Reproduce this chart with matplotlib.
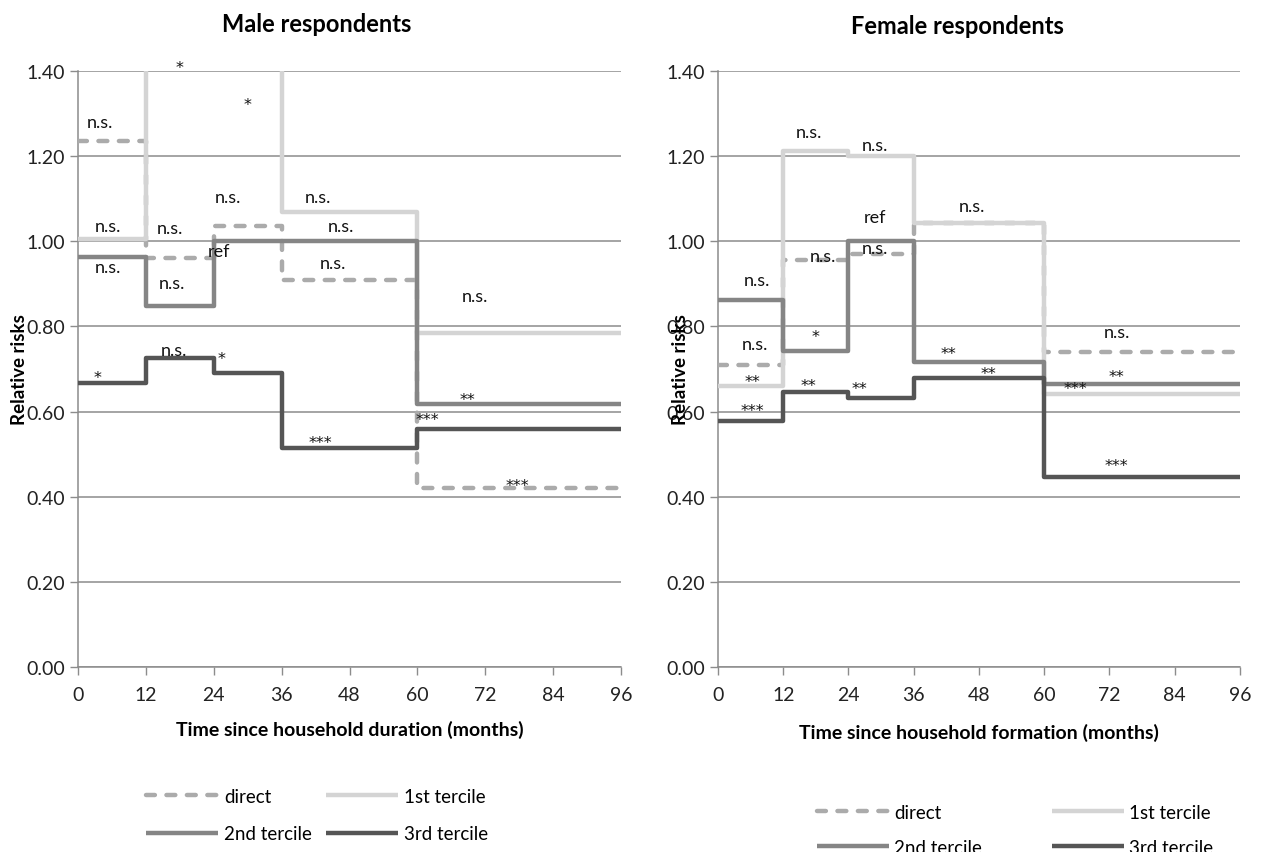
import numpy as np
import matplotlib.pyplot as plt
from matplotlib.transforms import offset_copy

plt.rcParams['font.family'] = ['Lato', 'DejaVu Sans']

# interval edges (months)
edges = [0, 12, 24, 36, 60, 96]

# male respondents (relative risks per interval)
m_direct = [1.236, 0.961, 1.036, 0.909, 0.42]
m_t1 = [1.005, 1.50, 1.50, 1.069, 0.785]
m_t2 = [0.963, 0.848, 1.00, 1.00, 0.618]
m_t3 = [0.667, 0.726, 0.691, 0.514, 0.559]

# female respondents
f_direct = [0.709, 0.956, 0.970, 1.043, 0.740]
f_t1 = [0.660, 1.212, 1.200, 1.043, 0.641]
f_t2 = [0.862, 0.742, 1.00, 0.716, 0.665]
f_t3 = [0.578, 0.646, 0.632, 0.680, 0.446]

# significance labels: (month, value, text)
m_notes = [(18.0, 1.412, '*'), (29.9, 1.327, '*'), (3.9, 1.28, 'n.s.'),
           (5.3, 1.036, 'n.s.'), (5.3, 0.94, 'n.s.'), (16.3, 1.031, 'n.s.'),
           (16.6, 0.902, 'n.s.'), (24.9, 0.977, 'ref'), (26.5, 1.104, 'n.s.'),
           (42.4, 1.104, 'n.s.'), (46.5, 1.036, 'n.s.'), (45.1, 0.949, 'n.s.'),
           (70.2, 0.871, 'n.s.'), (3.5, 0.684, '*'), (17.0, 0.745, 'n.s.'),
           (25.3, 0.73, '*'), (42.8, 0.531, '***'), (68.8, 0.634, '**'),
           (61.7, 0.585, '***'), (77.6, 0.43, '***')]
f_notes = [(16.7, 1.257, 'n.s.'), (28.9, 1.226, 'n.s.'), (28.9, 1.057, 'ref'),
           (46.7, 1.083, 'n.s.'), (19.3, 0.966, 'n.s.'), (28.9, 0.984, 'n.s.'),
           (7.2, 0.909, 'n.s.'), (6.8, 0.759, 'n.s.'), (18.0, 0.78, '*'),
           (6.4, 0.676, '**'), (6.4, 0.608, '***'), (16.7, 0.665, '**'),
           (26.0, 0.66, '**'), (42.3, 0.74, '**'), (49.8, 0.695, '**'),
           (73.4, 0.787, 'n.s.'), (73.2, 0.688, '**'), (65.7, 0.658, '***'),
           (73.2, 0.477, '***')]

labels = ['direct', '1st tercile', '2nd tercile', '3rd tercile']
colors = ['#ababab', '#d4d4d4', '#858585', '#555555']

fig = plt.figure(figsize=(12.61, 8.53), dpi=100)
ax1 = fig.add_axes([0.0619, 0.2169, 0.4306, 0.6987])
ax2 = fig.add_axes([0.5694, 0.2169, 0.4139, 0.6987])


def draw(ax, direct, t1, t2, t3, notes):
    series = [direct, t1, t2, t3]
    lines = {}
    # draw order: 1st tercile, direct, 2nd, 3rd
    for i in [1, 0, 2, 3]:
        vals = series[i] + [series[i][-1]]
        if i == 0:
            ln, = ax.step(edges, vals, where='post', color=colors[i], lw=3.2,
                          dashes=(2.0, 2.6), dash_capstyle='round',
                          label=labels[i], zorder=3)
        else:
            ln, = ax.step(edges, vals, where='post', color=colors[i], lw=3.2,
                          solid_capstyle='butt', label=labels[i], zorder=3 + i)
        lines[i] = ln
    # asterisks sit high in the font, nudge them down a little
    star_tr = offset_copy(ax.transData, fig=ax.figure, x=0, y=-2, units='dots')
    for x, y, t in notes:
        if t.startswith('*'):
            ax.text(x, y, t, ha='center', va='center', fontsize=11.5,
                    family='DejaVu Sans', color='#111111', zorder=10,
                    transform=star_tr)
        else:
            ax.text(x, y, t, ha='center', va='center', fontsize=13,
                    color='#111111', zorder=10)
    ax.set_xlim(0, 96)
    ax.set_ylim(0, 1.4)
    ax.set_xticks(range(0, 97, 12))
    ax.set_yticks(np.arange(0, 1.41, 0.2))
    ax.set_yticklabels(['%.2f' % v for v in np.arange(0, 1.41, 0.2)])
    ax.grid(axis='y', color='#8c8c8c', lw=1.1, zorder=0)
    ax.set_axisbelow(True)
    for s in ['top', 'right']:
        ax.spines[s].set_visible(False)
    for s in ['left', 'bottom']:
        ax.spines[s].set_color('#8c8c8c')
        ax.spines[s].set_linewidth(1.1)
    ax.tick_params(axis='both', colors='#8c8c8c', labelcolor='#222222',
                   labelsize=14, length=6, width=1)
    ax.tick_params(axis='x', pad=8)
    return [lines[i] for i in range(4)]


h1 = draw(ax1, m_direct, m_t1, m_t2, m_t3, m_notes)
h2 = draw(ax2, f_direct, f_t1, f_t2, f_t3, f_notes)

fig.text(317 / 1261, 1 - 25 / 853, 'Male respondents', ha='center', va='center',
         fontsize=17, fontweight='bold')
fig.text(957 / 1261, 1 - 26 / 853, 'Female respondents', ha='center', va='center',
         fontsize=17, fontweight='bold')
fig.text(350 / 1261, 1 - 730 / 853, 'Time since household duration (months)',
         ha='center', va='center', fontsize=14, fontweight='bold')
fig.text(979 / 1261, 1 - 733 / 853, 'Time since household formation (months)',
         ha='center', va='center', fontsize=14, fontweight='bold')
fig.text(20 / 1261, 1 - 370 / 853, 'Relative risks', rotation=90, ha='center',
         va='center', fontsize=13.5, fontweight='bold')
fig.text(681 / 1261, 1 - 370 / 853, 'Relative risks', rotation=90, ha='center',
         va='center', fontsize=13.5, fontweight='bold')

# legends fill column by column, so order handles to get rows
# "direct, 1st tercile" / "2nd tercile, 3rd tercile"
order = [0, 2, 1, 3]
fig.legend([h1[i] for i in order], [labels[i] for i in order], loc='center',
           bbox_to_anchor=(317 / 1261, 1 - 816 / 853), ncol=2, frameon=False,
           fontsize=13.5, handlelength=3.84, handletextpad=0.32,
           columnspacing=0.75, labelspacing=1.1, borderpad=0)
fig.legend([h2[i] for i in order], [labels[i] for i in order], loc='center',
           bbox_to_anchor=(1015 / 1261, 1 - 831 / 853), ncol=2, frameon=False,
           fontsize=13.5, handlelength=3.84, handletextpad=0.27,
           columnspacing=3.7, labelspacing=0.96, borderpad=0)

plt.savefig('out.png', dpi=100)
